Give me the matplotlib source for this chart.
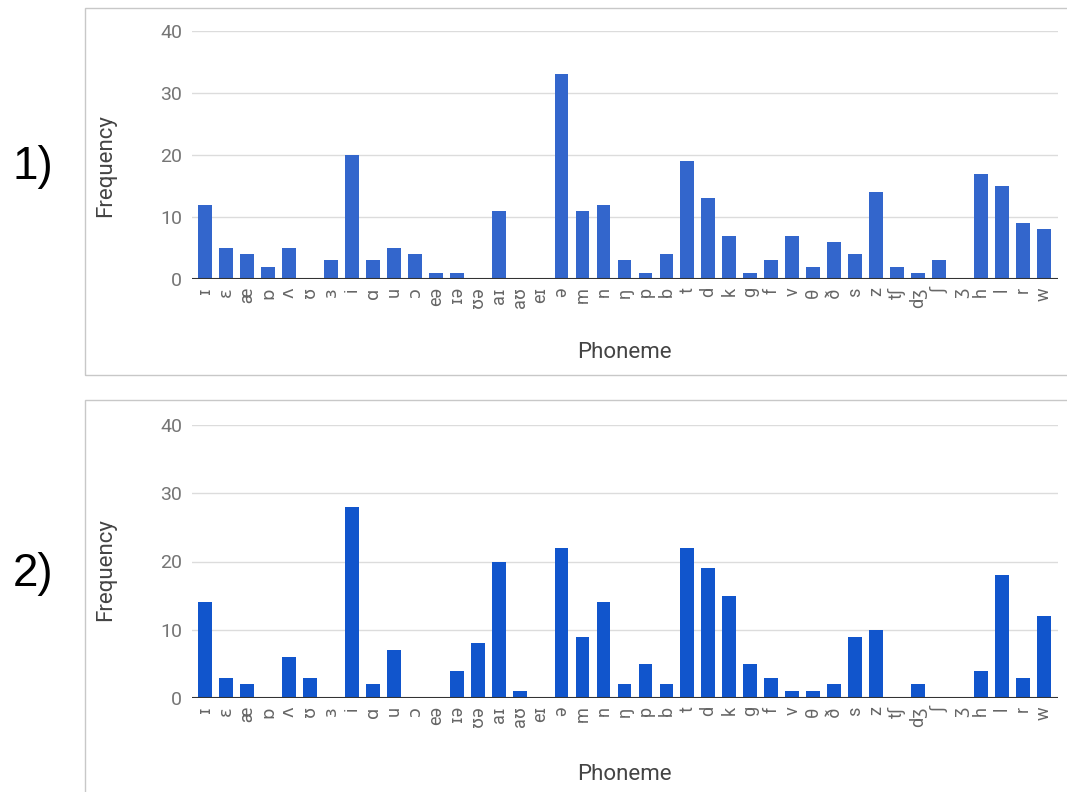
import matplotlib.pyplot as plt
from matplotlib.patches import Rectangle

plt.rcParams['font.family'] = ['Roboto', 'DejaVu Sans']

# phonemes on the x axis
phonemes = ['ɪ', 'ɛ', 'æ', 'ɒ', 'ʌ', 'ʊ', 'ɜ', 'i', 'ɑ', 'u', 'ɔ', 'eə', 'ɪə', 'ʊə',
            'aɪ', 'aʊ', 'eɪ', 'ə', 'm', 'n', 'ŋ', 'p', 'b', 't', 'd', 'k', 'g', 'f',
            'v', 'θ', 'ð', 's', 'z', 'tʃ', 'dʒ', 'ʃ', 'ʒ', 'h', 'l', 'r', 'w']

# frequencies, chart 1)
freq_1 = [12, 5, 4, 2, 5, 0, 3, 20, 3, 5, 4, 1, 1, 0,
          11, 0, 0, 33, 11, 12, 3, 1, 4, 19, 13, 7, 1, 3,
          7, 2, 6, 4, 14, 2, 1, 3, 0, 17, 15, 9, 8]

# frequencies, chart 2)
freq_2 = [14, 3, 2, 0, 6, 3, 0, 28, 2, 7, 0, 0, 4, 8,
          20, 1, 0, 22, 9, 14, 2, 5, 2, 22, 19, 15, 5, 3,
          1, 1, 2, 9, 10, 0, 2, 0, 0, 4, 18, 3, 12]

yticks = [0, 10, 20, 30, 40]

W, H = 1067, 792
fig = plt.figure(figsize=(W / 100, H / 100), dpi=100)


def px(x, y):
    return x / W, 1 - y / H


panels = [
    # values, colour, axes top/bottom px, frame top/bottom px, number, its y, x label y, y label y
    (freq_1, '#3366cc', 31, 279, 8, 375, '1)', 167, 353, 166),
    (freq_2, '#1155cc', 425, 698, 400, 800, '2)', 574, 775, 570),
]

for vals, col, top, bot, btop, bbot, num, num_y, xl_y, yl_y in panels:
    # light grey frame round each chart
    fig.patches.append(Rectangle(px(85, bbot), (1100 - 85) / W, (bbot - btop) / H,
                                 transform=fig.transFigure, fill=False,
                                 edgecolor='#c8c8c8', linewidth=1))
    l, b = px(192, bot)
    ax = fig.add_axes([l, b, (1058 - 192) / W, (bot - top) / H])
    xs = list(range(len(phonemes)))
    ax.bar(xs, vals, width=0.66, color=col, zorder=3)
    ax.set_xlim(-0.62, len(phonemes) - 1 + 0.67)
    ax.set_ylim(0, 40)
    ax.set_yticks(yticks)
    ax.set_yticklabels([str(t) for t in yticks])
    ax.set_xticks(xs)
    ax.set_xticklabels(phonemes, rotation=90, va='top', ha='center')
    ax.grid(axis='y', color='#dcdcdc', linewidth=1, zorder=0)
    ax.axhline(0, color='#333333', linewidth=1.5, zorder=4)
    for s in ax.spines.values():
        s.set_visible(False)
    ax.tick_params(axis='y', length=0, pad=7, labelsize=14, labelcolor='#757575')
    ax.tick_params(axis='x', length=0, pad=6, labelsize=13, labelcolor='#666666')

    fig.text(*px(33, num_y), num, fontsize=33, ha='center', va='center',
             family=['Liberation Sans', 'DejaVu Sans'], color='black')
    fig.text(*px(624, xl_y), 'Phoneme', fontsize=16, ha='center', va='center',
             color='#444444')
    fig.text(*px(106, yl_y), 'Frequency', fontsize=16, ha='center', va='center',
             rotation=90, color='#444444')

fig.savefig('out.png', dpi=100)
